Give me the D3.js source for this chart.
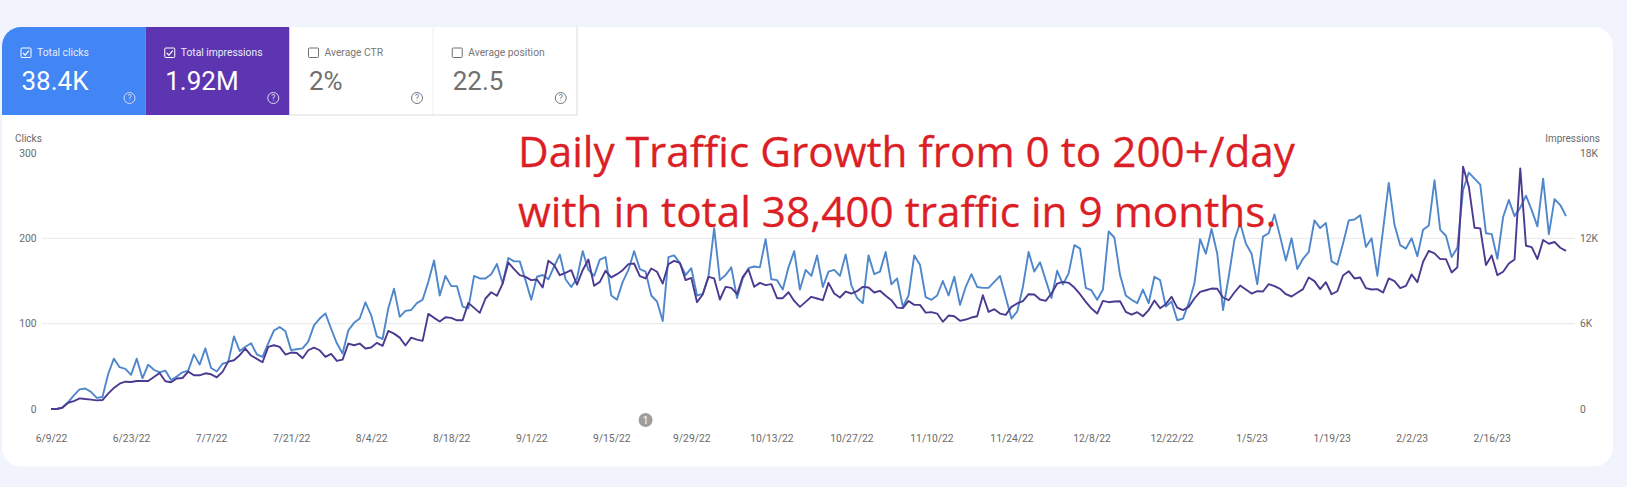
<!DOCTYPE html>
<html>
<head>
<meta charset="utf-8">
<script src="https://cdn.jsdelivr.net/npm/d3@7"></script>
<style>
html, body { margin: 0; padding: 0; background: #f1f4fc; }
svg { display: block; font-family: Roboto, sans-serif; }
.axis path { display: none; }
.axis line { display: none; }
.axis text { font-family: Roboto, sans-serif; font-size: 10.3px; fill: #6a6a6a; }
</style>
</head>
<body>
<svg id="chart" width="1627" height="487"></svg>
<script>
// values, one per day from 6/9/22
const clicks = [
	0,0,2,8,16,23,24,20,13,14,41,59,49,47,40,59,36,52,46,43,45,34,38,43,45,64,52,71,48,44,
	53,55,85,68,73,77,64,61,77,92,96,91,69,70,71,79,98,106,112,94,77,65,92,101,106,125,110,85,82,118,
	141,108,115,116,124,128,149,174,133,156,144,144,120,118,156,153,153,158,170,147,177,173,173,151,128,155,157,152,167,181,
	152,143,153,185,163,156,175,178,133,128,149,163,185,164,161,133,126,103,178,180,171,157,165,133,135,155,212,151,157,166,
	130,153,165,167,166,199,152,151,140,166,185,140,163,156,180,143,161,163,156,181,145,130,124,180,158,161,184,146,153,120,
	133,180,169,131,128,133,150,133,155,122,143,158,143,142,142,149,156,131,106,114,143,184,161,172,151,130,162,146,159,192,
	188,142,139,128,140,208,201,157,133,128,124,140,124,155,151,120,126,104,106,124,147,199,182,211,182,116,155,198,218,194,
	182,146,202,206,228,202,174,200,164,176,184,221,212,218,173,169,194,221,222,227,190,200,156,210,265,216,192,188,200,179,
	210,215,268,210,203,178,189,257,277,270,263,206,205,176,225,245,226,236,250,233,214,270,205,246,239,226
];
const impressions = [
	0,0,90,440,560,750,700,660,610,630,1080,1480,1780,1920,1900,1970,1970,1970,2250,2530,1950,1880,2140,2180,2630,2370,2370,2510,2440,2230,
	2610,3330,3430,3780,4250,3760,3520,3290,4370,4480,4370,3830,3970,3940,3570,4130,4320,4130,3660,3870,3380,3470,4600,4480,4600,4250,4320,4650,4440,5490,
	5300,5020,4460,5020,4880,4790,6690,6410,6150,6450,6410,6240,6240,7460,7110,6760,7770,8210,7960,8820,10300,9830,9410,9290,9060,9110,8540,10420,10120,9410,
	9580,9760,8750,9760,10510,8660,8940,9720,9250,9480,9760,10190,10230,9340,9180,9880,9650,8820,10190,10420,10280,9060,9220,7510,8050,9290,9180,7700,8590,8520,
	8070,9290,9810,8590,8870,8710,8780,7790,7790,8210,7600,7180,7530,7890,7770,7650,8870,8120,7840,8260,8120,8280,8590,8540,8190,8310,7960,7650,7130,7090,
	7600,7320,7320,6780,6810,6710,6130,6570,6520,6200,6290,6430,6520,8000,6830,7020,6710,6620,7180,7420,7580,8070,8050,7700,7600,8120,8820,8940,8870,8540,
	8070,7530,7060,6710,7600,7510,7560,7580,6830,6640,6810,6520,6950,7630,7090,7370,7890,7130,6950,7180,7770,8240,8350,8470,8450,7840,7650,8190,8680,8400,
	8120,8280,8260,8780,8640,8450,8070,7910,8170,8430,9250,8990,8430,8920,8070,8280,9390,9690,9180,9250,8500,8400,8430,8190,9180,8990,8500,8660,9460,8920,
	10350,11120,10940,10540,10540,9600,9970,17040,15630,12740,12700,10120,10800,9410,9650,10230,10510,16920,11480,11380,10540,11880,11620,11740,11340,11120
];
const dateTicks = ['6/9/22','6/23/22','7/7/22','7/21/22','8/4/22','8/18/22','9/1/22','9/15/22','9/29/22','10/13/22','10/27/22','11/10/22','11/24/22','12/8/22','12/22/22','1/5/23','1/19/23','2/2/23','2/16/23'];
const clickTicks = [0, 100, 200, 300];
const impressionTicks = [0, 6000, 12000, 18000];
const tileLabels = ['Total clicks', 'Total impressions', 'Average CTR', 'Average position'];
const tileValues = ['38.4K', '1.92M', '2%', '22.5'];
const tileColors = ['#4285f4', '#5e35b1', '#fff', '#fff'];
const noteLines = ['Daily Traffic Growth from 0 to 200+/day', 'with in total 38,400 traffic in 9 months.'];

const parseTick = d3.timeParse('%m/%d/%y');
const startDate = parseTick(dateTicks[0]);
const days = clicks.map((d, i) => d3.timeDay.offset(startDate, i));

const margin = {top: 153, right: 61, bottom: 78, left: 51};
const width = 1627, height = 487;
const svg = d3.select('#chart');

// card
svg.append('rect')
	.attr('x', 2).attr('y', 27)
	.attr('width', 1611).attr('height', 439.5)
	.attr('rx', 19)
	.attr('fill', '#fff');

const xScale = d3.scaleTime()
	.domain([startDate, days[days.length - 1]])
	.range([margin.left, width - margin.right]);
const yClicks = d3.scaleLinear().domain([0, 300]).range([height - margin.bottom, margin.top]);
const yImpressions = d3.scaleLinear().domain([0, 18000]).range([height - margin.bottom, margin.top]);

/* TILES */
const tileScale = d3.scaleBand().domain(d3.range(4)).range([2, 577]);
const tile = svg.selectAll('.tile')
	.data(tileLabels)
	.enter()
	.append('g')
	.attr('class', 'tile')
	.attr('transform', (d, i) => `translate(${tileScale(i)}, 27)`);

tile.append('path')
	.attr('d', (d, i) => {
		const w = tileScale.bandwidth();
		if (i === 0) return `M0 88V19A19 19 0 0 1 19 0H${w}V88Z`;
		return `M0 0H${w}V88H0Z`;
	})
	.attr('fill', (d, i) => tileColors[i]);
tile.filter((d, i) => i > 1).append('path')
	.attr('d', `M0 88H${tileScale.bandwidth()}V0`)
	.attr('fill', 'none')
	.attr('stroke', '#dcdcdc');

const tileInk = i => i < 2 ? '#fff' : '#6f6f6f';
tile.append('rect')
	.attr('x', 19).attr('y', 21)
	.attr('width', 10).attr('height', 9.5)
	.attr('rx', 1)
	.attr('fill', 'none')
	.attr('stroke', (d, i) => tileInk(i));
tile.filter((d, i) => i < 2).append('path')
	.attr('d', 'M21 26l2.2 2.2l3.8 -4.6')
	.attr('fill', 'none')
	.attr('stroke', '#fff')
	.attr('stroke-width', 1.2);
tile.append('text')
	.attr('x', 35).attr('y', 29)
	.attr('font-size', 10.3)
	.attr('fill', (d, i) => i < 2 ? '#e8ecfa' : '#777')
	.text(d => d);
tile.append('text')
	.attr('x', 19.5).attr('y', 63)
	.attr('font-size', 26)
	.attr('fill', (d, i) => tileInk(i))
	.text((d, i) => tileValues[i]);
tile.append('circle')
	.attr('cx', 127.5).attr('cy', 71)
	.attr('r', 5.5)
	.attr('fill', 'none')
	.attr('stroke', (d, i) => i < 2 ? '#d8d8f0' : '#777');
tile.append('text')
	.attr('x', 127.5).attr('y', 74)
	.attr('text-anchor', 'middle')
	.attr('font-size', 8.5)
	.attr('fill', (d, i) => i < 2 ? '#d8d8f0' : '#777')
	.text('?');

/* GRID */
svg.append('g')
	.selectAll('line')
	.data([100, 200])
	.enter()
	.append('line')
	.attr('x1', 42)
	.attr('x2', 1575)
	.attr('y1', d => yClicks(d))
	.attr('y2', d => yClicks(d))
	.attr('stroke', '#e8e8e8');

/* AXES */
svg.append('g')
	.attr('class', 'axis')
	.attr('transform', 'translate(36.5, 0)')
	.call(d3.axisLeft(yClicks).tickValues(clickTicks).tickSize(0).tickPadding(0));

svg.append('g')
	.attr('class', 'axis')
	.attr('transform', 'translate(1580, 0)')
	.call(d3.axisRight(yImpressions).tickValues(impressionTicks).tickSize(0).tickPadding(0).tickFormat(d => d === 0 ? '0' : d / 1000 + 'K'));

svg.append('g')
	.attr('class', 'axis')
	.attr('transform', 'translate(0, 432)')
	.call(d3.axisBottom(xScale).tickValues(dateTicks.map(parseTick)).tickSize(0).tickPadding(3).tickFormat((d, i) => dateTicks[i]));

svg.append('text')
	.attr('x', 15).attr('y', 142)
	.attr('font-size', 10)
	.attr('fill', '#6a6a6a')
	.text('Clicks');
svg.append('text')
	.attr('x', 1600).attr('y', 142)
	.attr('text-anchor', 'end')
	.attr('font-size', 10)
	.attr('fill', '#6a6a6a')
	.text('Impressions');

/* LINES */
const clickLine = d3.line().x((d, i) => xScale(days[i])).y(d => yClicks(d));
const impressionLine = d3.line().x((d, i) => xScale(days[i])).y(d => yImpressions(d));

svg.append('path')
	.datum(clicks)
	.attr('d', clickLine)
	.attr('fill', 'none')
	.attr('stroke', '#4f87cc')
	.attr('stroke-width', 1.9)
	.attr('stroke-linejoin', 'round');
svg.append('path')
	.datum(impressions)
	.attr('d', impressionLine)
	.attr('fill', 'none')
	.attr('stroke', '#4c3a90')
	.attr('stroke-width', 1.9)
	.attr('stroke-linejoin', 'round');

/* ANNOTATION MARKER */
const noteDate = d3.timeDay.offset(parseTick('9/15/22'), 6);
svg.append('circle')
	.attr('cx', xScale(noteDate)).attr('cy', 420)
	.attr('r', 7)
	.attr('fill', '#9e9e9e');
svg.append('text')
	.attr('x', xScale(noteDate)).attr('y', 423.5)
	.attr('text-anchor', 'middle')
	.attr('font-size', 10)
	.attr('fill', '#fff')
	.text('1');

/* RED NOTE */
svg.selectAll('.note')
	.data(noteLines)
	.enter()
	.append('text')
	.attr('class', 'note')
	.attr('x', 518)
	.attr('y', (d, i) => 167 + i * 59.5)
	.attr('font-family', '"Open Sans", sans-serif')
	.attr('font-size', 42.3)
	.attr('fill', '#dc1f26')
	.attr('stroke', '#dc1f26')
	.attr('stroke-width', 0.3)
	.text(d => d);
</script>
</body>
</html>
